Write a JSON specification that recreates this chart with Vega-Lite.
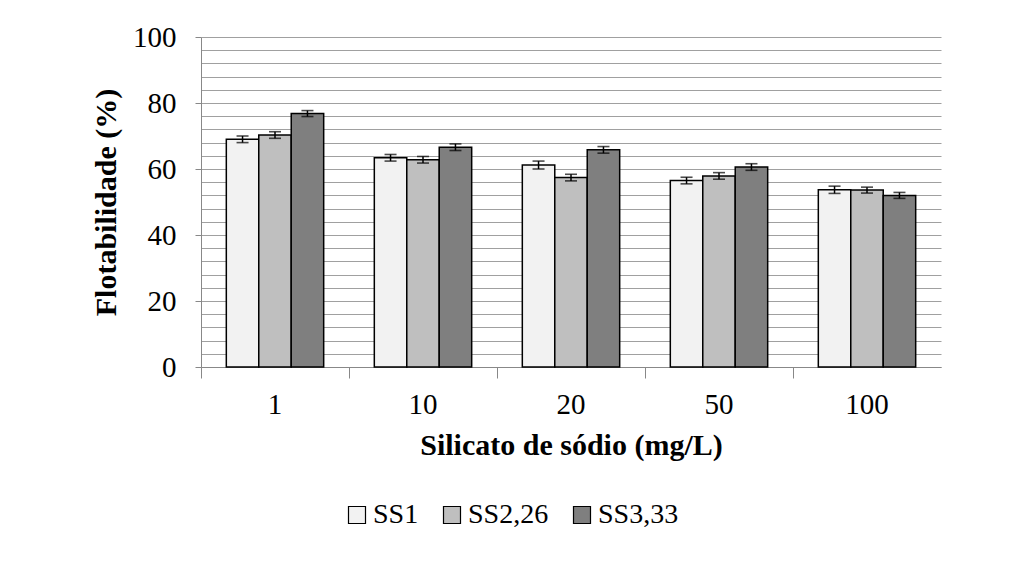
{
  "$schema": "https://vega.github.io/schema/vega-lite/v6.json",
  "autosize": "none",
  "width": 740,
  "height": 330,
  "padding": {"left": 201, "top": 37, "right": 82, "bottom": 196},
  "background": "white",
  "config": {
    "font": "Liberation Serif",
    "view": {"stroke": null},
    "legend": {"labelFont": "Liberation Serif"},
    "axis": {"labelFont": "Liberation Serif", "titleFont": "Liberation Serif"}
  },
  "data": {
    "values": [
      {"g": "1", "s": "SS1", "v": 69.0, "lo": 68.0, "hi": 70.0},
      {"g": "1", "s": "SS2,26", "v": 70.3, "lo": 69.3, "hi": 71.3},
      {"g": "1", "s": "SS3,33", "v": 76.8, "lo": 75.9, "hi": 77.7},
      {"g": "10", "s": "SS1", "v": 63.4, "lo": 62.4, "hi": 64.4},
      {"g": "10", "s": "SS2,26", "v": 62.8, "lo": 61.8, "hi": 63.8},
      {"g": "10", "s": "SS3,33", "v": 66.6, "lo": 65.6, "hi": 67.6},
      {"g": "20", "s": "SS1", "v": 61.2, "lo": 60.0, "hi": 62.4},
      {"g": "20", "s": "SS2,26", "v": 57.4, "lo": 56.4, "hi": 58.4},
      {"g": "20", "s": "SS3,33", "v": 65.8, "lo": 64.8, "hi": 66.8},
      {"g": "50", "s": "SS1", "v": 56.5, "lo": 55.5, "hi": 57.5},
      {"g": "50", "s": "SS2,26", "v": 57.9, "lo": 56.9, "hi": 58.9},
      {"g": "50", "s": "SS3,33", "v": 60.6, "lo": 59.6, "hi": 61.6},
      {"g": "100", "s": "SS1", "v": 53.7, "lo": 52.6, "hi": 54.8},
      {"g": "100", "s": "SS2,26", "v": 53.6, "lo": 52.7, "hi": 54.5},
      {"g": "100", "s": "SS3,33", "v": 52.0, "lo": 51.1, "hi": 52.9}
    ]
  },
  "encoding": {
    "x": {
      "field": "g", "type": "ordinal", "sort": ["1", "10", "20", "50", "100"],
      "scale": {"paddingInner": 0, "paddingOuter": 0},
      "axis": {
        "title": "Silicato de sódio (mg/L)",
        "titleFont": "Liberation Serif", "titleFontSize": 30, "titleFontWeight": "bold", "titleColor": "#000",
        "titlePadding": 11,
        "labelFont": "Liberation Serif", "labelFontSize": 29, "labelColor": "#000", "labelAngle": 0,
        "labelPadding": 12,
        "bandPosition": 0,
        "tickSize": 11, "tickColor": "#888", "tickWidth": 1,
        "domainColor": "#888", "domainWidth": 1,
        "grid": false
      }
    },
    "xOffset": {
      "field": "s", "type": "nominal",
      "scale": {"paddingInner": 0, "paddingOuter": 0.78}
    }
  },
  "layer": [
    {
      "mark": {"type": "bar", "stroke": "#000", "strokeWidth": 1.5},
      "encoding": {
        "y": {
          "field": "v", "type": "quantitative",
          "scale": {"domain": [0, 100], "nice": false},
          "axis": {
            "title": "Flotabilidade  (%)",
            "titleFont": "Liberation Serif", "titleFontSize": 30, "titleFontWeight": "bold", "titleColor": "#000",
            "titlePadding": 11,
            "values": [0, 4, 8, 12, 16, 20, 24, 28, 32, 36, 40, 44, 48, 52, 56, 60, 64, 68, 72, 76, 80, 84, 88, 92, 96, 100],
            "tickCount": 40,
            "labelOverlap": false,
            "labelExpr": "datum.value % 20 === 0 ? datum.label : ''",
            "labelFont": "Liberation Serif", "labelFontSize": 29, "labelColor": "#000", "labelPadding": 19,
            "tickSize": 6, "tickColor": "#888",
            "tickOpacity": {"condition": {"test": "datum.value % 20 === 0", "value": 1}, "value": 0},
            "domainColor": "#888",
            "grid": true, "gridColor": "#a0a0a0", "gridWidth": 1
          }
        },
        "color": {
          "field": "s", "type": "nominal",
          "scale": {"domain": ["SS1", "SS2,26", "SS3,33"], "range": ["#f2f2f2", "#bfbfbf", "#7f7f7f"]},
          "legend": {
            "title": null, "orient": "none", "direction": "horizontal",
            "legendX": 142, "legendY": 464,
            "symbolType": "square", "symbolSize": 289, "symbolStrokeColor": "#000", "symbolStrokeWidth": 1.2,
            "labelFont": "Liberation Serif", "labelFontSize": 28, "labelColor": "#000",
            "columnPadding": 19, "labelOffset": 2
          }
        }
      }
    },
    {
      "mark": {"type": "rule", "color": "#000", "strokeWidth": 1.5},
      "encoding": {
        "y": {"field": "lo", "type": "quantitative"},
        "y2": {"field": "hi"}
      }
    },
    {
      "mark": {"type": "tick", "color": "#000", "size": 12, "thickness": 1.6},
      "encoding": {"y": {"field": "lo", "type": "quantitative"}}
    },
    {
      "mark": {"type": "tick", "color": "#000", "size": 12, "thickness": 1.6},
      "encoding": {"y": {"field": "hi", "type": "quantitative"}}
    }
  ]
}
